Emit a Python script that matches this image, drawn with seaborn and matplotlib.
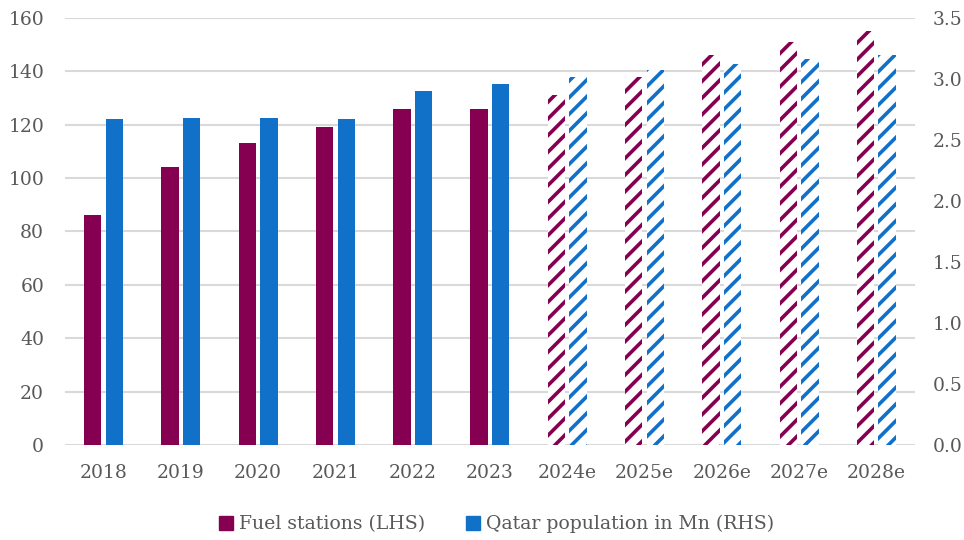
import matplotlib
matplotlib.use("Agg")
import matplotlib.pyplot as plt
from matplotlib.lines import Line2D
import pandas as pd
import seaborn as sns

years = ["2018", "2019", "2020", "2021", "2022", "2023",
         "2024e", "2025e", "2026e", "2027e", "2028e"]
fuel_stations = [86, 104, 113, 119, 126, 126, 131, 138, 146, 151, 155]
population_mn = [2.67, 2.68, 2.68, 2.67, 2.90, 2.96, 3.02, 3.07, 3.12, 3.16, 3.20]
n_actual = 6  # the first six years are reported, the rest are estimates

fuel_label = "Fuel stations (LHS)"
pop_label = "Qatar population in Mn (RHS)"
fuel_color = "#860052"
pop_color = "#1170C7"
text_color = "#595959"
grid_color = "#D9D9D9"

sns.set_style("white")
plt.rcParams["font.family"] = ["DejaVu Serif", "DejaVu Sans"]
plt.rcParams["hatch.linewidth"] = 2.6

hue_order = [fuel_label, pop_label]
nan = float("nan")
left_df = pd.DataFrame({
    "year": years * 2,
    "series": [fuel_label] * len(years) + [pop_label] * len(years),
    "value": fuel_stations + [nan] * len(years),
})
right_df = pd.DataFrame({
    "year": years * 2,
    "series": [fuel_label] * len(years) + [pop_label] * len(years),
    "value": [nan] * len(years) + population_mn,
})
palette = {fuel_label: fuel_color, pop_label: pop_color}

fig = plt.figure(figsize=(9.64, 5.4), dpi=100)
ax = fig.add_axes([0.0674, 0.176, 0.8817, 0.7907])
ax2 = ax.twinx()

sns.barplot(data=left_df, x="year", y="value", hue="series", hue_order=hue_order,
            order=years, palette=palette, width=0.56, gap=0.2, dodge=True,
            saturation=1, legend=False, ax=ax, zorder=2)
sns.barplot(data=right_df, x="year", y="value", hue="series", hue_order=hue_order,
            order=years, palette=palette, width=0.56, gap=0.2, dodge=True,
            saturation=1, legend=False, ax=ax2, zorder=2)

# estimated years: striped bars
for axis, color in ((ax, fuel_color), (ax2, pop_color)):
    for p in axis.patches:
        idx = int(round(p.get_x() + p.get_width() / 2))
        p.set_linewidth(0)
        if idx >= n_actual:
            p.set_facecolor("white")
            p.set_edgecolor(color)
            p.set_hatch("//")

ax.set_xlim(-0.5, len(years) - 0.5)
ax.set_ylim(0, 160)
ax2.set_ylim(0, 3.5)
ax.set_yticks(range(0, 161, 20))
ax2.set_yticks([i * 0.5 for i in range(8)])
ax2.set_yticklabels([f"{i * 0.5:.1f}" for i in range(8)])

ax.yaxis.grid(True, color=grid_color, linewidth=1.5, zorder=0)
ax.set_axisbelow(True)
for a in (ax, ax2):
    for s in a.spines.values():
        s.set_visible(False)
    a.set_xlabel("")
    a.set_ylabel("")
ax.tick_params(axis="x", length=0, pad=14, labelsize=13.5, labelcolor=text_color)
ax.tick_params(axis="y", length=0, pad=15, labelsize=13.5, labelcolor=text_color)
ax2.tick_params(axis="y", length=0, pad=13, labelsize=13.5, labelcolor=text_color)

handles = [
    Line2D([], [], marker="s", linestyle="none", markersize=9.5,
           markerfacecolor=fuel_color, markeredgecolor=fuel_color),
    Line2D([], [], marker="s", linestyle="none", markersize=9.5,
           markerfacecolor=pop_color, markeredgecolor=pop_color),
]
leg = fig.legend(handles, hue_order, loc="center", bbox_to_anchor=(0.515, 0.029),
                 ncol=2, frameon=False, fontsize=13.6, handletextpad=0.3,
                 columnspacing=2.2, handlelength=0.72)
for t in leg.get_texts():
    t.set_color(text_color)

fig.savefig("out.png", dpi=100)
